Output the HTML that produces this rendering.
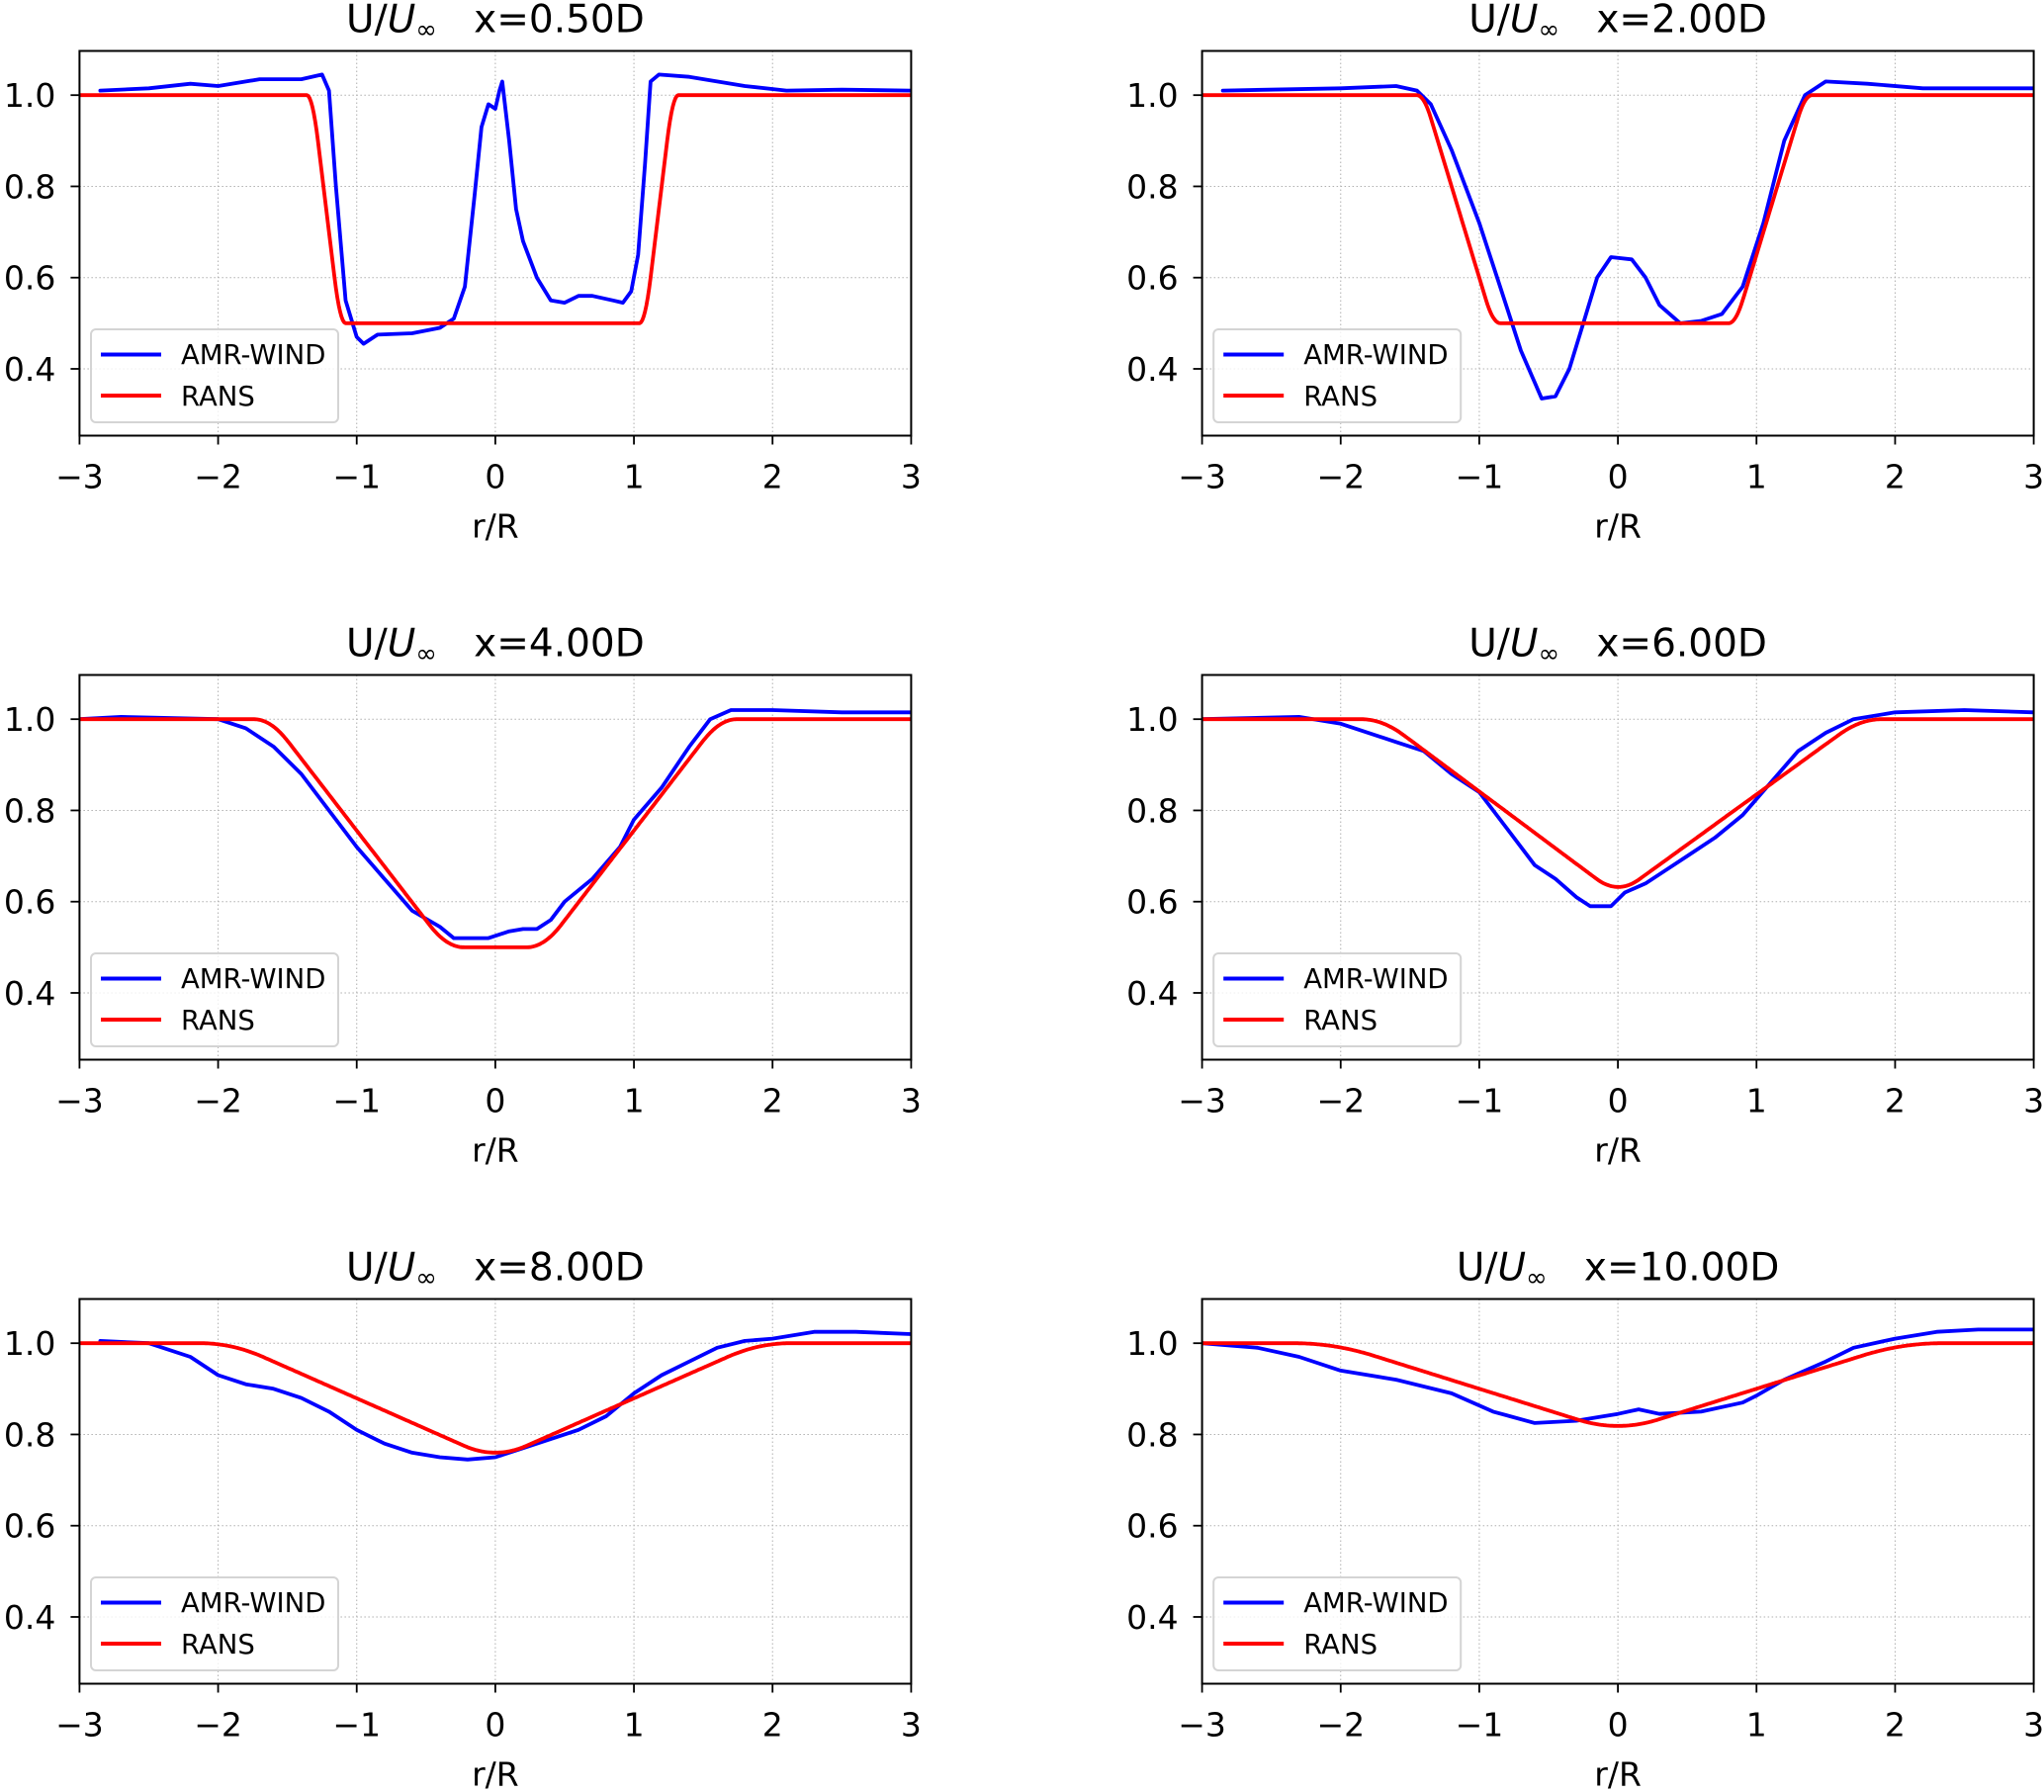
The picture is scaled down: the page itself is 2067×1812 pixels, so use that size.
<!DOCTYPE html>
<html><head><meta charset="utf-8"><style>
html,body{margin:0;padding:0;background:#fff;}
svg{display:block;font-family:"DejaVu Sans","Liberation Sans",sans-serif;}
</style></head><body>
<svg id="s" width="2067" height="1812" xmlns="http://www.w3.org/2000/svg"></svg>
<script>
const S=document.getElementById('s');
let out='';
const PW=841, X0s=[80.4,1215.6], Y0s=[51.5,682.5,1313.5], PH=389;
const titles=['0.50D','2.00D','4.00D','6.00D','8.00D','10.00D'];
const amr=[
[[-2.85,1.01],[-2.5,1.015],[-2.2,1.025],[-2.0,1.02],[-1.7,1.035],[-1.4,1.035],[-1.25,1.045],[-1.2,1.01],[-1.15,0.8],[-1.08,0.55],[-1.0,0.47],[-0.95,0.455],[-0.85,0.475],[-0.6,0.478],[-0.4,0.49],[-0.3,0.51],[-0.22,0.58],[-0.15,0.78],[-0.1,0.93],[-0.05,0.98],[0.0,0.97],[0.03,1.01],[0.05,1.03],[0.1,0.9],[0.15,0.75],[0.2,0.68],[0.3,0.6],[0.4,0.55],[0.5,0.545],[0.6,0.56],[0.7,0.56],[0.85,0.55],[0.92,0.545],[0.98,0.57],[1.03,0.65],[1.08,0.85],[1.12,1.03],[1.18,1.045],[1.4,1.04],[1.6,1.03],[1.8,1.02],[2.1,1.01],[2.5,1.012],[3,1.01]],
[[-2.85,1.01],[-2,1.015],[-1.6,1.02],[-1.45,1.01],[-1.35,0.98],[-1.2,0.88],[-1.0,0.72],[-0.85,0.58],[-0.7,0.44],[-0.6,0.37],[-0.55,0.335],[-0.45,0.34],[-0.35,0.4],[-0.25,0.5],[-0.15,0.6],[-0.05,0.645],[0.1,0.64],[0.2,0.6],[0.3,0.54],[0.45,0.5],[0.6,0.505],[0.75,0.52],[0.9,0.58],[1.05,0.72],[1.2,0.9],[1.35,1.0],[1.5,1.03],[1.8,1.025],[2.2,1.015],[3,1.015]],
[[-3,1.0],[-2.7,1.005],[-2.0,1.0],[-1.8,0.98],[-1.6,0.94],[-1.4,0.88],[-1.2,0.8],[-1.0,0.72],[-0.8,0.65],[-0.6,0.58],[-0.4,0.545],[-0.3,0.52],[-0.05,0.52],[0.1,0.535],[0.2,0.54],[0.3,0.54],[0.4,0.56],[0.5,0.6],[0.7,0.65],[0.9,0.72],[1.0,0.78],[1.2,0.85],[1.4,0.94],[1.55,1.0],[1.7,1.02],[2,1.02],[2.5,1.015],[3,1.015]],
[[-3,1.0],[-2.3,1.005],[-2,0.99],[-1.6,0.95],[-1.4,0.93],[-1.2,0.88],[-1.0,0.84],[-0.8,0.76],[-0.6,0.68],[-0.45,0.65],[-0.3,0.61],[-0.2,0.59],[-0.05,0.59],[0.05,0.62],[0.2,0.64],[0.35,0.67],[0.5,0.7],[0.7,0.74],[0.9,0.79],[1.1,0.86],[1.3,0.93],[1.5,0.97],[1.7,1.0],[2,1.015],[2.5,1.02],[3,1.015]],
[[-2.85,1.005],[-2.5,1.0],[-2.2,0.97],[-2.0,0.93],[-1.8,0.91],[-1.6,0.9],[-1.4,0.88],[-1.2,0.85],[-1.0,0.81],[-0.8,0.78],[-0.6,0.76],[-0.4,0.75],[-0.2,0.745],[0.0,0.75],[0.2,0.77],[0.4,0.79],[0.6,0.81],[0.8,0.84],[1.0,0.89],[1.2,0.93],[1.4,0.96],[1.6,0.99],[1.8,1.005],[2.0,1.01],[2.3,1.025],[2.6,1.025],[3,1.02]],
[[-3,1.0],[-2.6,0.99],[-2.3,0.97],[-2,0.94],[-1.6,0.92],[-1.2,0.89],[-0.9,0.85],[-0.6,0.825],[-0.3,0.83],[-0.1,0.84],[0.0,0.845],[0.15,0.855],[0.3,0.845],[0.6,0.85],[0.9,0.87],[1.0,0.885],[1.2,0.92],[1.5,0.96],[1.7,0.99],[2.0,1.01],[2.3,1.025],[2.6,1.03],[3,1.03]]
];
const rp=[[-1.32,-1.12,1.08,1.28,0.5,0.04],[-1.4,-0.9,0.85,1.35,0.5,0.05],[-1.62,-0.35,0.35,1.62,0.5,0.12],[-1.7,0,0,1.75,0.615,0.15],[-1.9,0,0,1.9,0.745,0.22],[-2.05,0,0,2.05,0.805,0.28]];
function lin(r,p){let g;
 if(r<=p[0]||r>=p[3])g=0;else if(r<p[1])g=(r-p[0])/(p[1]-p[0]);else if(r<=p[2])g=1;else g=(p[3]-r)/(p[3]-p[2]);
 return 1-(1-p[4])*g;}
function rans(r,p){let s=0,n=0;for(let k=-20;k<=20;k++){s+=lin(r+p[5]*k/20,p);n++;}return s/n;}
for(let i=0;i<6;i++){
 const X0=X0s[i%2],Y0=Y0s[Math.floor(i/2)];
 const xm=r=>X0+(r+3)/6*PW;
 const y1=Y0+44.7;
 const ym=v=>y1+(1-v)*461.3;
 for(let r=-3;r<=3;r++){const x=xm(r);out+=`<line x1="${x}" y1="${Y0}" x2="${x}" y2="${Y0+PH}" stroke="#b0b0b0" stroke-width="1" stroke-dasharray="1.5,2.5"/>`;}
 for(const v of [0.4,0.6,0.8,1.0]){const y=ym(v);out+=`<line x1="${X0}" y1="${y}" x2="${X0+PW}" y2="${y}" stroke="#b0b0b0" stroke-width="1" stroke-dasharray="1.5,2.5"/>`;
  out+=`<line x1="${X0-9}" y1="${y}" x2="${X0}" y2="${y}" stroke="#000" stroke-width="1.8"/>`;
  out+=`<text x="${X0-24}" y="${y+12}" font-size="33" text-anchor="end">${v.toFixed(1)}</text>`;}
 for(let r=-3;r<=3;r++){const x=xm(r);out+=`<line x1="${x}" y1="${Y0+PH}" x2="${x}" y2="${Y0+PH+9}" stroke="#000" stroke-width="1.8"/>`;
  out+=`<text x="${x}" y="${Y0+PH+53}" font-size="33" text-anchor="middle">${r<0?'\u2212'+(-r):r}</text>`;}
 out+=`<text x="${X0+PW/2}" y="${Y0+PH+103}" font-size="33" text-anchor="middle">r/R</text>`;
 out+=`<text x="${X0+PW/2}" y="${Y0-19}" font-size="39" text-anchor="middle" xml:space="preserve">U/<tspan font-style="italic">U</tspan><tspan font-size="26" dy="6">\u221e</tspan><tspan dy="-6">   x=${titles[i]}</tspan></text>`;
 let pts=[];for(let r=-3;r<=3.0001;r+=0.01)pts.push(xm(r).toFixed(1)+','+ym(rans(r,rp[i])).toFixed(1));
 const a=amr[i].map(p=>xm(p[0]).toFixed(1)+','+ym(p[1]).toFixed(1)).join(' ');
 out+=`<svg x="${X0}" y="${Y0}" width="${PW}" height="${PH}" viewBox="${X0} ${Y0} ${PW} ${PH}" overflow="hidden">`;
 out+=`<polyline points="${a}" fill="none" stroke="#0000ff" stroke-width="3.8" stroke-linejoin="round" stroke-linecap="round"/>`;
 out+=`<polyline points="${pts.join(' ')}" fill="none" stroke="#ff0000" stroke-width="3.8" stroke-linejoin="round"/>`;
 out+=`</svg>`;
 out+=`<rect x="${X0}" y="${Y0}" width="${PW}" height="${PH}" fill="none" stroke="#000" stroke-width="2"/>`;
 const lx=X0+11.6,ly=Y0+281.5;
 out+=`<rect x="${lx}" y="${ly}" width="250" height="94" rx="5" fill="#fff" fill-opacity="0.8" stroke="#d4d4d4" stroke-width="2"/>`;
 out+=`<line x1="${lx+10}" y1="${ly+25.5}" x2="${lx+71}" y2="${ly+25.5}" stroke="#0000ff" stroke-width="4"/>`;
 out+=`<line x1="${lx+10}" y1="${ly+67}" x2="${lx+71}" y2="${ly+67}" stroke="#ff0000" stroke-width="4"/>`;
 out+=`<text x="${lx+91}" y="${ly+35}" font-size="27.5">AMR-WIND</text>`;
 out+=`<text x="${lx+91}" y="${ly+77}" font-size="27.5">RANS</text>`;
}
S.innerHTML=out;
</script>
</body></html>
